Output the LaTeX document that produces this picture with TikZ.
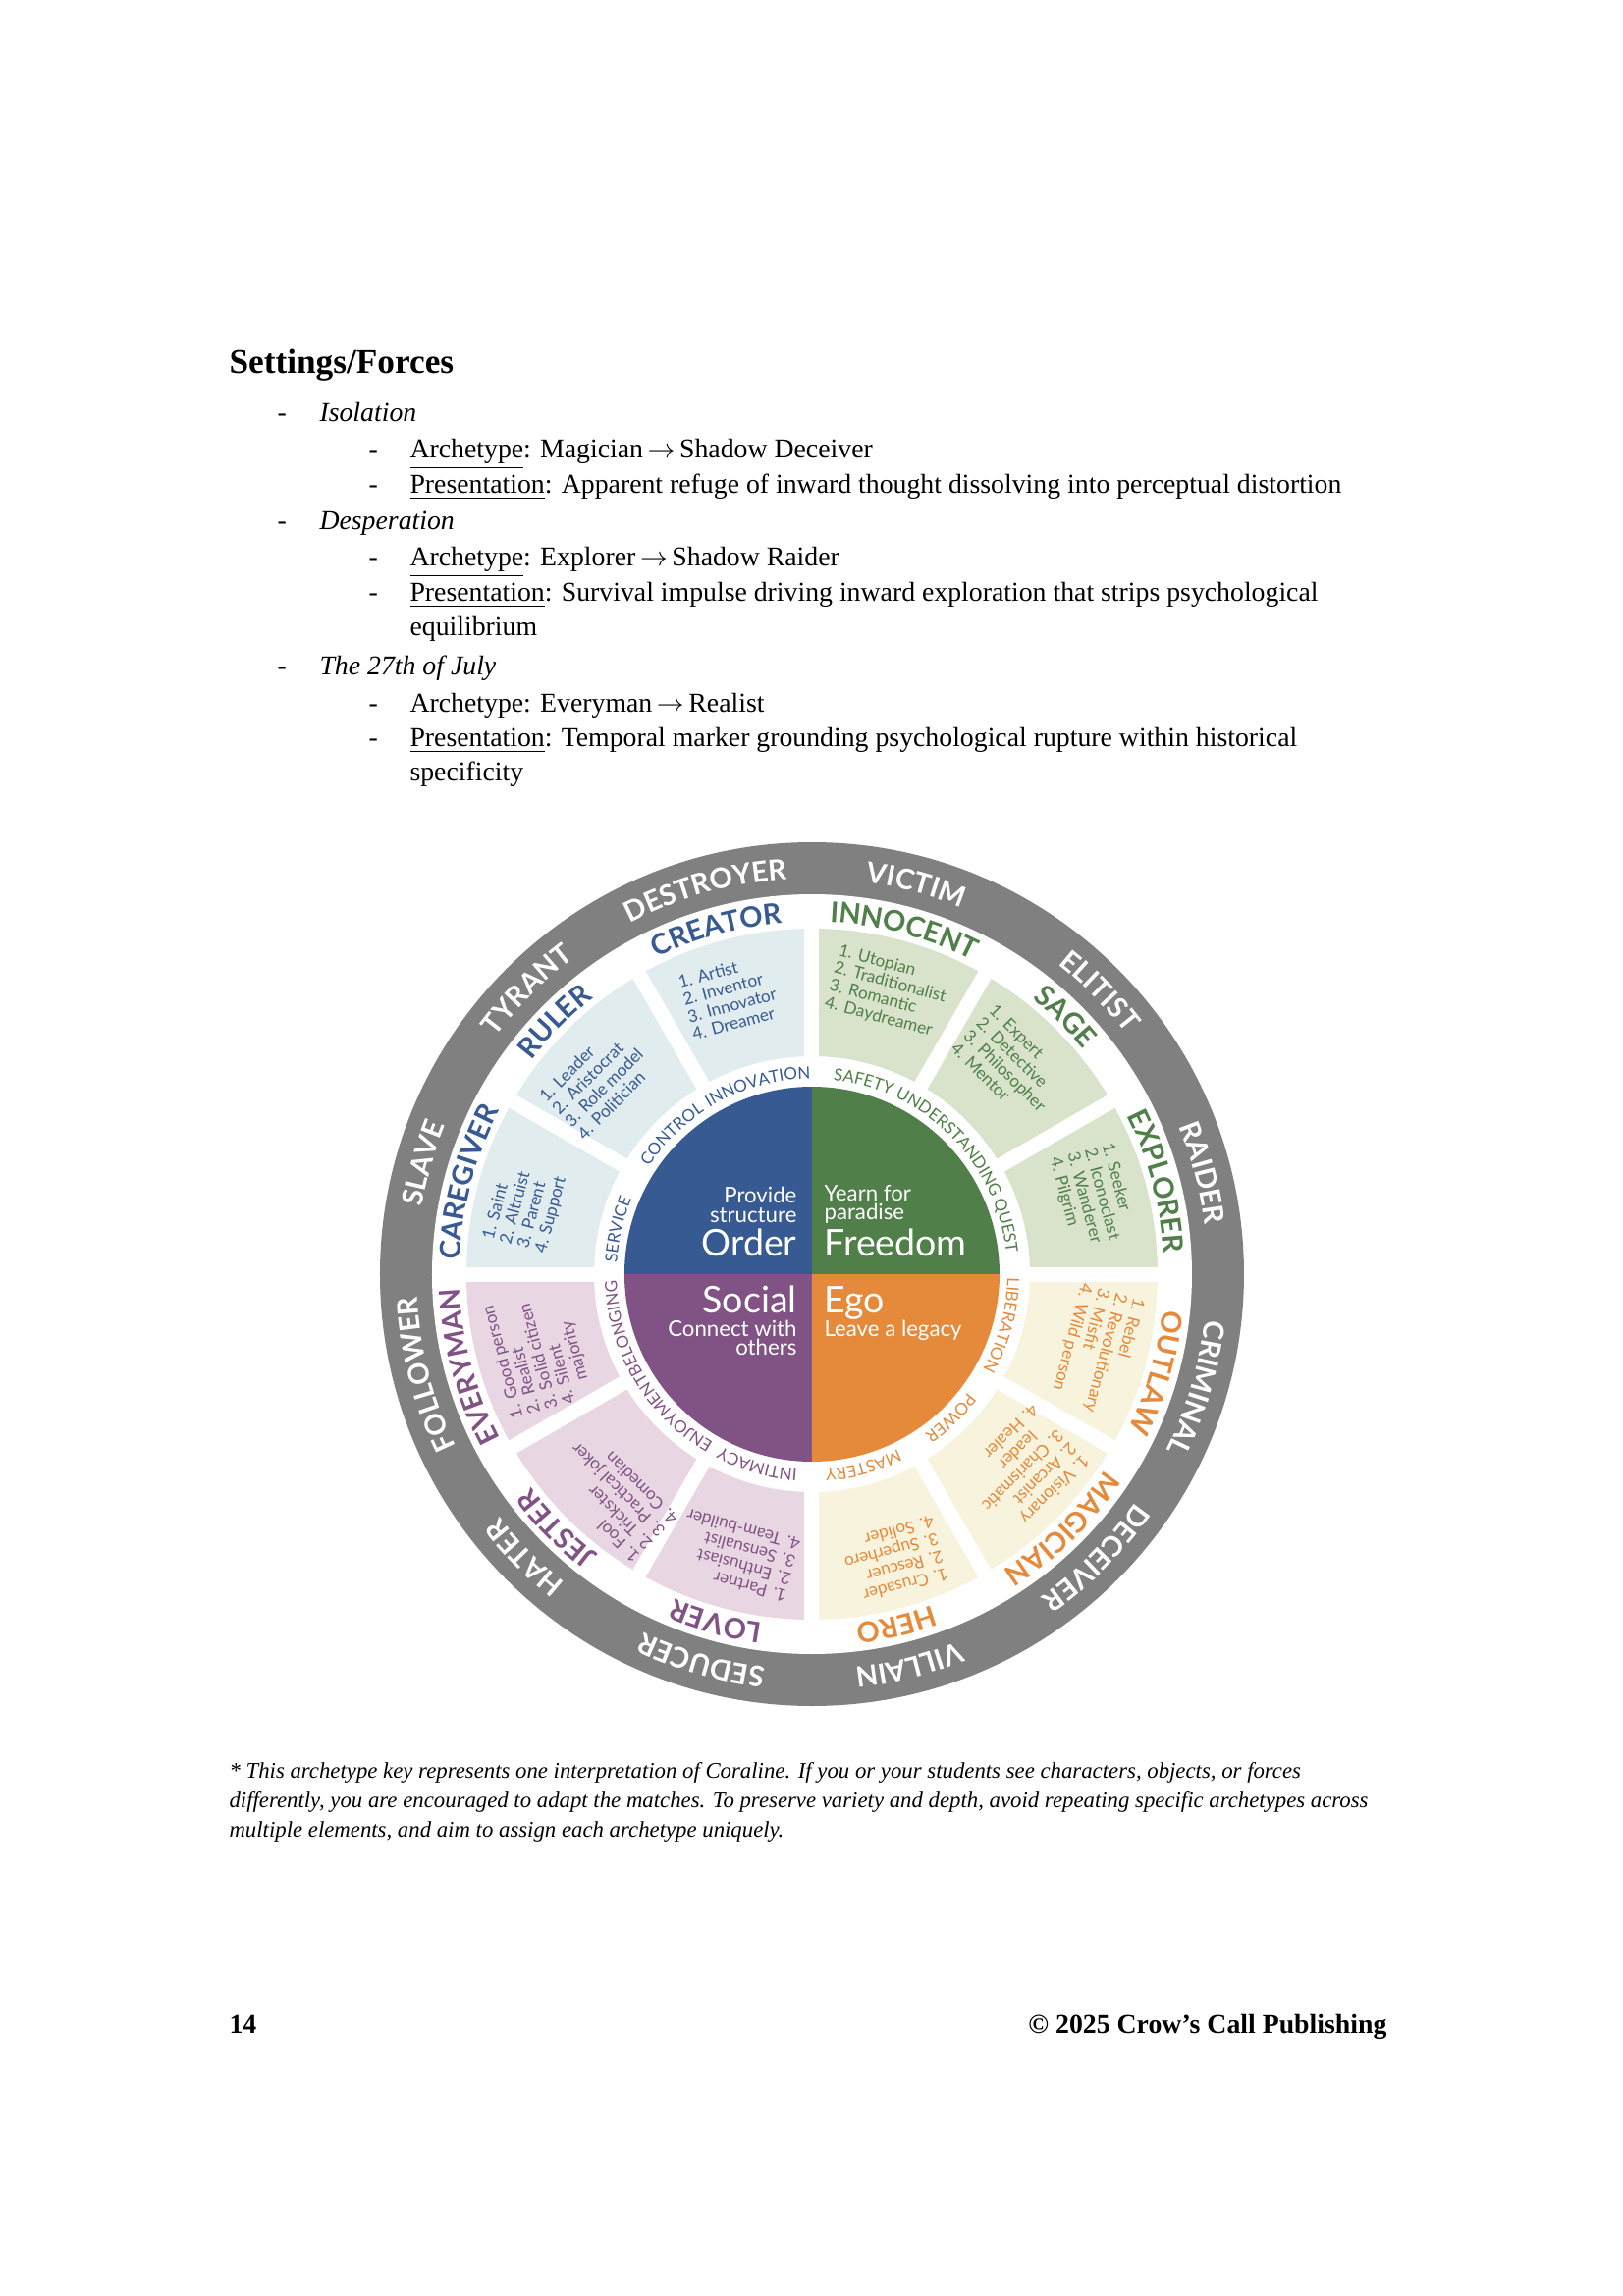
\documentclass[tikz,border=0pt]{standalone}
\usepackage{fontspec}
\setmainfont{Liberation Serif}
\newfontfamily\wheelfont{Lato}
\usetikzlibrary{decorations.text}
\definecolor{ordC}{HTML}{375A93}
\definecolor{freC}{HTML}{507F4A}
\definecolor{egoC}{HTML}{E5893B}
\definecolor{socC}{HTML}{815384}
\definecolor{ordL}{HTML}{E1ECEE}
\definecolor{freL}{HTML}{D9E3CC}
\definecolor{egoL}{HTML}{F7F3DD}
\definecolor{socL}{HTML}{E8D6E3}
\definecolor{ringG}{HTML}{808080}
\newcommand\shfmt{\wheelfont\bfseries\fontsize{10.4}{12}\selectfont\color{white}}
\newcommand\arfmt{\wheelfont\bfseries\fontsize{10.4}{12}\selectfont}
\newcommand\rwfmt{\wheelfont\fontsize{6.1}{7}\selectfont}
\newcommand\arctext[4]{\path[decorate,decoration={text along path,text align=center,text={#4}}] ({#1+#3}:#2) arc[start angle={#1+#3},end angle={#1-#3},radius=#2];}
\newcommand\toarrow{\,$\rightarrow$\,}
\begin{document}
\begin{tikzpicture}[x=0.36pt,y=0.36pt,
  bodytxt/.style={anchor=base west,inner sep=0pt,font=\fontsize{10}{12}\selectfont},
  notetxt/.style={anchor=base west,inner sep=0pt,font=\fontsize{8.2}{10}\selectfont\itshape},
  listbox/.style={align=left,inner sep=0pt,font=\wheelfont\fontsize{6.2}{6.6}\selectfont},
  bigw/.style={inner sep=0pt,text=white,font=\wheelfont\fontsize{13.5}{15}\selectfont},
  smallw/.style={inner sep=0pt,text=white,font=\wheelfont\fontsize{8}{9}\selectfont}]
\fill[white] (-827,-1041) rectangle (826,1298);
\useasboundingbox (-827,-1041) rectangle (826,1298);
% ---------- text block ----------
\node[bodytxt] (head) at (-594,917) {\fontsize{12.7}{15}\selectfont\bfseries Settings/Forces};
\node[bodytxt] (d1) at (-545,868) {-};
\node[bodytxt] (t1) at (-502,868) {\itshape Isolation};
\node[bodytxt] (d11) at (-452,831) {-};
\node[bodytxt] (t11) at (-410,831) {\underline{Archetype}: Magician\toarrow Shadow Deceiver};
\node[bodytxt] (d12) at (-452,795) {-};
\node[bodytxt] (t12) at (-410,795) {\underline{Presentation}: Apparent refuge of inward thought dissolving into perceptual distortion};
\node[bodytxt] (d2) at (-545,758) {-};
\node[bodytxt] (t2) at (-502,758) {\itshape Desperation};
\node[bodytxt] (d21) at (-452,721) {-};
\node[bodytxt] (t21) at (-410,721) {\underline{Archetype}: Explorer\toarrow Shadow Raider};
\node[bodytxt] (d22) at (-452,685) {-};
\node[bodytxt] (t22) at (-410,685) {\underline{Presentation}: Survival impulse driving inward exploration that strips psychological};
\node[bodytxt] (t22b) at (-410,650) {equilibrium};
\node[bodytxt] (d3) at (-545,610) {-};
\node[bodytxt] (t3) at (-502,610) {\itshape The 27th of July};
\node[bodytxt] (d31) at (-452,573) {-};
\node[bodytxt] (t31) at (-410,573) {\underline{Archetype}: Everyman\toarrow Realist};
\node[bodytxt] (d32) at (-452,537) {-};
\node[bodytxt] (t32) at (-410,537) {\underline{Presentation}: Temporal marker grounding psychological rupture within historical};
\node[bodytxt] (t32b) at (-410,503) {specificity};
% ---------- wheel ----------
\fill[ringG] (0,0) circle[radius=440];
\fill[white] (0,0) circle[radius=387];
\fill[freL] (0:352) arc[start angle=0,end angle=90,radius=352] -- (90:222) arc[start angle=90,end angle=0,radius=222] -- cycle;
\fill[ordL] (90:352) arc[start angle=90,end angle=180,radius=352] -- (180:222) arc[start angle=180,end angle=90,radius=222] -- cycle;
\fill[socL] (180:352) arc[start angle=180,end angle=270,radius=352] -- (270:222) arc[start angle=270,end angle=180,radius=222] -- cycle;
\fill[egoL] (270:352) arc[start angle=270,end angle=360,radius=352] -- (360:222) arc[start angle=360,end angle=270,radius=222] -- cycle;
\foreach \a in {0,30,...,330} \draw[white,line width=5.4pt] (\a:205) -- (\a:365);
\fill[freC] (0,0) -- (0:191) arc[start angle=0,end angle=90,radius=191] -- cycle;
\fill[ordC] (0,0) -- (90:191) arc[start angle=90,end angle=180,radius=191] -- cycle;
\fill[socC] (0,0) -- (180:191) arc[start angle=180,end angle=270,radius=191] -- cycle;
\fill[egoC] (0,0) -- (270:191) arc[start angle=270,end angle=360,radius=191] -- cycle;
% centre texts
\node[smallw,anchor=base east] (ordA) at (-15,73) {Provide};
\node[smallw,anchor=base east] (ordB) at (-15,53) {structure};
\node[bigw,anchor=base east] (ordN) at (-15,19) {Order};
\node[smallw,anchor=base west] (freA) at (12,75) {Yearn for};
\node[smallw,anchor=base west] (freB) at (12,56) {paradise};
\node[bigw,anchor=base west] (freN) at (12,19) {Freedom};
\node[bigw,anchor=base east] (socN) at (-15,-39) {Social};
\node[smallw,anchor=base east] (socA) at (-15,-63) {Connect with};
\node[smallw,anchor=base east] (socB) at (-15,-82) {others};
\node[bigw,anchor=base west] (egoN) at (12,-39) {Ego};
\node[smallw,anchor=base west] (egoA) at (12,-63) {Leave a legacy};
% ring words
\arctext{106}{199}{25}{|\rwfmt\color{ordC}|INNOVATION}
\arctext{135}{199}{25}{|\rwfmt\color{ordC}|CONTROL}
\arctext{167}{199}{25}{|\rwfmt\color{ordC}|SERVICE}
\arctext{75}{199}{25}{|\rwfmt\color{freC}|SAFETY}
\arctext{44}{199}{25}{|\rwfmt\color{freC}|UNDERSTANDING}
\arctext{14}{199}{25}{|\rwfmt\color{freC}|QUEST}
\arctext{345}{199}{25}{|\rwfmt\color{egoC}|LIBERATION}
\arctext{314}{199}{25}{|\rwfmt\color{egoC}|POWER}
\arctext{285}{199}{25}{|\rwfmt\color{egoC}|MASTERY}
\arctext{196}{199}{25}{|\rwfmt\color{socC}|BELONGING}
\arctext{225}{199}{25}{|\rwfmt\color{socC}|ENJOYMENT}
\arctext{254}{199}{25}{|\rwfmt\color{socC}|INTIMACY}
% archetype names
\arctext{105.5}{359}{25}{|\arfmt\color{ordC}|CREATOR}
\arctext{135.5}{359}{25}{|\arfmt\color{ordC}|RULER}
\arctext{165}{359}{25}{|\arfmt\color{ordC}|CAREGIVER}
\arctext{75}{359}{25}{|\arfmt\color{freC}|INNOCENT}
\arctext{45.5}{359}{25}{|\arfmt\color{freC}|SAGE}
\arctext{15}{359}{25}{|\arfmt\color{freC}|EXPLORER}
\arctext{344}{359}{25}{|\arfmt\color{egoC}|OUTLAW}
\arctext{314.5}{359}{25}{|\arfmt\color{egoC}|MAGICIAN}
\arctext{283.5}{359}{25}{|\arfmt\color{egoC}|HERO}
\arctext{254.5}{359}{25}{|\arfmt\color{socC}|LOVER}
\arctext{225}{359}{25}{|\arfmt\color{socC}|JESTER}
\arctext{195}{359}{25}{|\arfmt\color{socC}|EVERYMAN}
% shadow names
\arctext{105.5}{403}{25}{|\shfmt|DESTROYER}
\arctext{135}{403}{25}{|\shfmt|TYRANT}
\arctext{164}{403}{25}{|\shfmt|SLAVE}
\arctext{75}{403}{25}{|\shfmt|VICTIM}
\arctext{44.5}{403}{25}{|\shfmt|ELITIST}
\arctext{14.5}{403}{25}{|\shfmt|RAIDER}
\arctext{343.5}{403}{25}{|\shfmt|CRIMINAL}
\arctext{315}{403}{25}{|\shfmt|DECEIVER}
\arctext{284}{403}{25}{|\shfmt|VILLAIN}
\arctext{254}{403}{25}{|\shfmt|SEDUCER}
\arctext{224.6}{403}{25}{|\shfmt|HATER}
\arctext{194.5}{403}{25}{|\shfmt|FOLLOWER}
% lists
\node[listbox,text=ordC,rotate=15] (lcre) at (106.5:295) {1. Artist\\2. Inventor\\3. Innovator\\4. Dreamer};
\node[listbox,text=ordC,rotate=45] (lrul) at (138:294) {1. Leader\\2. Aristocrat\\3. Role model\\4. Politician};
\node[listbox,text=ordC,rotate=75] (lcar) at (167:300) {1. Saint\\2. Altruist\\3. Parent\\4. Support};
\node[listbox,text=freC,rotate=-15] (linn) at (75:298) {1. Utopian\\2. Traditionalist\\3. Romantic\\4. Daydreamer};
\node[listbox,text=freC,rotate=-45] (lsag) at (46.5:295) {1. Expert\\2. Detective\\3. Philosopher\\4. Mentor};
\node[listbox,text=freC,rotate=-75] (lexp) at (15.5:297) {1. Seeker\\2. Iconoclast\\3. Wanderer\\4. Pilgrim};
\node[listbox,text=egoC,rotate=-105] (lout) at (-15:300) {1. Rebel\\2. Revolutionary\\3. Misfit\\4. Wild person};
\node[listbox,text=egoC,rotate=-135] (lmag) at (-43:294) {1. Visionary\\2. Arcanist\\3. Charismatic\\\phantom{3. }leader\\4. Healer};
\node[listbox,text=egoC,rotate=-165] (lher) at (-74:303) {1. Crusader\\2. Rescuer\\3. Superhero\\4. Solider};
\node[listbox,text=socC,rotate=165] (llov) at (255:297) {1. Partner\\2. Enthusiast\\3. Sensualist\\4. Team-builder};
\node[listbox,text=socC,rotate=135] (ljes) at (228:305) {1. Fool\\2. Trickster\\3. Practical joker\\4. Comedian};
\node[listbox,text=socC,rotate=105] (leve) at (196:290) {1. Good person\\2. Realist\\3. Solid citizen\\4. Silent\\\phantom{4. }majority};
% ---------- footnote and footer ----------
\node[notetxt] (fn1) at (-594,-513) {* This archetype key represents one interpretation of Coraline. If you or your students see characters, objects, or forces};
\node[notetxt] (fn2) at (-594,-543) {differently, you are encouraged to adapt the matches. To preserve variety and depth, avoid repeating specific archetypes across};
\node[notetxt] (fn3) at (-594,-573) {multiple elements, and aim to assign each archetype uniquely.};
\node[bodytxt,font=\fontsize{10}{12}\selectfont\bfseries] (pg) at (-594,-773) {14};
\node[bodytxt,anchor=base east,font=\fontsize{10}{12}\selectfont\bfseries] (cr) at (586,-773) {© 2025 Crow’s Call Publishing};
\end{tikzpicture}
\end{document}
